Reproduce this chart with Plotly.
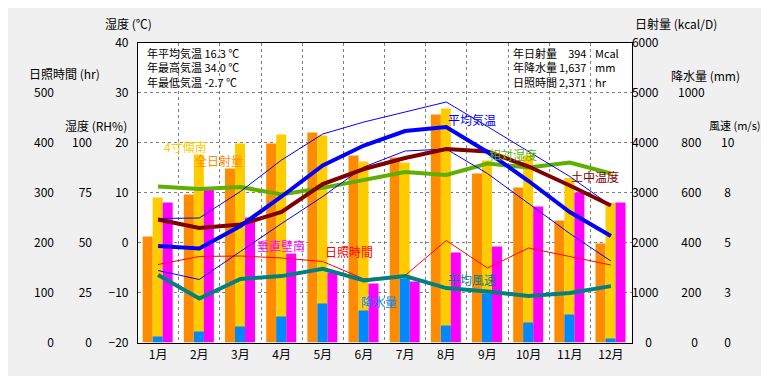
import plotly.graph_objects as go

# ---------------- data ----------------
months = ["1月", "2月", "3月", "4月", "5月", "6月", "7月", "8月", "9月", "10月", "11月", "12月"]
month_num = list(range(1, 13))

solar_all = [2120, 2960, 3480, 3980, 4200, 3740, 3700, 4560, 3380, 3100, 2440, 1980]   # 全日射量 kcal/D
solar_tilt = [2900, 3760, 3980, 4160, 4140, 3620, 3600, 4680, 3640, 3740, 3290, 2790]  # 4寸傾南
solar_wall = [2800, 3060, 2500, 1780, 1400, 1180, 1220, 1800, 1920, 2720, 3000, 2800]  # 垂直壁南
precip = [24, 44, 64, 104, 156, 128, 256, 68, 196, 80, 112, 16]                        # 降水量 mm
sunshine = [156, 172, 173, 169, 162, 127, 134, 204, 149, 189, 172, 155]                # 日照時間 hr
rh = [78, 76.8, 77.7, 74, 77.3, 81, 85.2, 83.8, 89.5, 87.5, 90, 84.5]                  # 相対湿度 %
wind = [3.38, 2.2, 3.18, 3.32, 3.68, 3.1, 3.32, 2.72, 2.55, 2.32, 2.48, 2.82]          # 平均風速 m/s
t_avg = [-0.7, -1.2, 3.3, 9.2, 15.4, 19.4, 22.3, 23.1, 18.1, 12.3, 6.1, 1.3]
t_max = [4.8, 4.9, 10.2, 16.5, 21.7, 24.1, 26.1, 28.1, 23.2, 18.2, 13.2, 7.4]
t_min = [-5.6, -7.4, -1.8, 3.8, 9.2, 15.1, 18.3, 18.7, 13.8, 7.8, 1.8, -3.7]
t_soil = [4.6, 2.9, 3.6, 6.1, 11.7, 14.7, 16.9, 18.7, 18.2, 15.2, 11.4, 7.4]

temp_ticks = [-20, -10, 0, 10, 20, 30, 40]
rh_ticks = [0, 25, 50, 75, 100]
sun_ticks = [0, 100, 200, 300, 400, 500]
solar_ticks = [0, 1000, 2000, 3000, 4000, 5000, 6000]
solar_text = ["\u2007\u20070", "1000", "2000", "3000", "4000", "5000", "6000"]
precip_ticks = [0, 200, 400, 600, 800, 1000]
precip_text = ["\u2007\u20070", "\u2008200", "\u2008400", "\u2008600", "\u2008800", "1000"]
wind_ticks = [0, 2.5, 5, 7.5, 10]
wind_text = ["\u20080", "\u20083", "\u20085", "\u20088", "10"]

summary_left = ["年平均気温 16.3 ℃", "年最高気温 34.0 ℃", "年最低気温 -2.7 ℃"]
summary_right_lab = ["年日射量", "年降水量", "日照時間"]
summary_right_num = ["394", "1,637", "2,371"]
summary_right_unit = ["Mcal", "mm", "hr"]

# ---------------- geometry helpers ----------------
W, H = 769, 376
OFF = 8  # page offset of the figure inside the browser window
L, R, T, B = 137.5, 631.5, 42.5, 342.5
FONT = "Noto Sans CJK JP"
GAP = 8
STANDOFF = 8


def px(x):
    return (x - OFF) / W


def py(y):
    return 1 - (y - OFF) / H


ydom = [py(B), py(T)]

fig = go.Figure()

bw = 0.243
fig.add_trace(go.Bar(x=month_num, y=solar_all, width=bw, offset=-0.374, marker_color="#FF8C00",
                     marker_line_width=0, yaxis="y", name="全日射量"))
fig.add_trace(go.Bar(x=month_num, y=solar_tilt, width=bw, offset=-0.131, marker_color="#FFCC00",
                     marker_line_width=0, yaxis="y", name="4寸傾南"))
fig.add_trace(go.Bar(x=month_num, y=solar_wall, width=bw, offset=0.112, marker_color="#FF00FF",
                     marker_line_width=0, yaxis="y", name="垂直壁南"))
fig.add_trace(go.Bar(x=month_num, y=precip, width=bw, offset=-0.131, marker_color="#0088FF",
                     marker_line_width=0, yaxis="y2", name="降水量"))

fig.add_trace(go.Scatter(x=month_num, y=rh, mode="lines", line=dict(color="#5FAF00", width=4), yaxis="y3"))
fig.add_trace(go.Scatter(x=month_num, y=sunshine, mode="lines", line=dict(color="#FF0000", width=1), yaxis="y4"))
fig.add_trace(go.Scatter(x=month_num, y=wind, mode="lines", line=dict(color="#008080", width=4), yaxis="y5"))
fig.add_trace(go.Scatter(x=month_num, y=t_max, mode="lines", line=dict(color="#0000FF", width=1), yaxis="y6"))
fig.add_trace(go.Scatter(x=month_num, y=t_min, mode="lines", line=dict(color="#0000FF", width=1), yaxis="y6"))
fig.add_trace(go.Scatter(x=month_num, y=t_soil, mode="lines", line=dict(color="#800000", width=4), yaxis="y6"))
fig.add_trace(go.Scatter(x=month_num, y=t_avg, mode="lines", line=dict(color="#0000FF", width=4), yaxis="y6"))

tickfont = dict(family=FONT, size=12, color="black")
common = dict(showgrid=False, zeroline=False, ticks="", tickfont=tickfont, fixedrange=True,
              domain=ydom, automargin=False)

layout = dict(
    width=W, height=H, autosize=False,
    margin=dict(l=0, r=0, t=0, b=0, pad=0, autoexpand=False),
    paper_bgcolor="#F0F0F0", plot_bgcolor="white",
    showlegend=False, barmode="overlay",
    font=dict(family=FONT, size=12, color="black"),
    xaxis=dict(domain=[px(L), px(R)], range=[0.5, 12.5], tickvals=month_num, ticktext=months,
               showgrid=False, zeroline=False, ticks="", showline=True, mirror=True, automargin=False,
               linecolor="black", linewidth=1, tickfont=tickfont, fixedrange=True, ticklabelstandoff=1,
               minor=dict(tickvals=[m + 0.5 for m in month_num[:-1]], showgrid=True,
                          gridcolor="#808080", gridwidth=1, griddash="3px,3px", ticks="")),
    yaxis=dict(range=[0, 6000], side="right", anchor="x", tickvals=solar_ticks, ticktext=solar_text,
               showline=True, mirror=True, linecolor="black", linewidth=1,
               ticklabelstandoff=STANDOFF - 11, **common),
    yaxis2=dict(range=[0, 1200], side="right", overlaying="y", anchor="free", position=px(677 - GAP),
                tickvals=precip_ticks, ticktext=precip_text, showline=False,
                ticklabelstandoff=STANDOFF, **common),
    yaxis3=dict(range=[0, 150], side="left", overlaying="y", anchor="free", position=px(92 + GAP),
                tickvals=rh_ticks, showline=False, ticklabelstandoff=STANDOFF, **common),
    yaxis4=dict(range=[0, 600], side="left", overlaying="y", anchor="free", position=px(54 + GAP),
                tickvals=sun_ticks, showline=False, ticklabelstandoff=STANDOFF, **common),
    yaxis5=dict(range=[0, 15], side="right", overlaying="y", anchor="free", position=px(720 - GAP),
                tickvals=wind_ticks, ticktext=wind_text, showline=False,
                ticklabelstandoff=STANDOFF, **common),
    yaxis6=dict(range=[-20, 40], side="left", overlaying="y", anchor="x", tickvals=temp_ticks,
                showline=False, ticklabelstandoff=STANDOFF,
                **{k: v for k, v in common.items() if k != "showgrid"},
                showgrid=True, gridcolor="#808080", gridwidth=1, griddash="3px,3px"),
)
fig.update_layout(**layout)

annotations = []


def add_text(text, x, y, color="black", anchor="left", size=12, align="left"):
    annotations.append(dict(text=text, x=px(x), y=py(y), xref="paper", yref="paper",
                            xanchor=anchor, yanchor="middle", showarrow=False, align=align,
                            font=dict(family=FONT, size=size, color=color)))


# axis titles
add_text("湿度 (℃)", 128, 24, anchor="center")
add_text("日照時間 (hr)", 64, 74, anchor="center")
add_text("湿度 (RH%)", 95.5, 125, anchor="center")
add_text("日射量 (kcal/D)", 676, 24, anchor="center")
add_text("降水量 (mm)", 705.5, 75, anchor="center")
add_text("風速 (m/s)", 763, 125, anchor="right", size=11)

# summary boxes
add_text("<br>".join(summary_left), 145, 68, size=11)
add_text("<br>".join(summary_right_lab), 511, 68, size=11)
add_text("<br>".join(summary_right_num), 588, 68, size=11, anchor="right", align="right")
add_text("<br>".join(summary_right_unit), 593, 68, size=11)

# series labels
add_text("4寸傾南", 162, 146, color="#FFCC00")
add_text("全日射量", 193, 160, color="#FF8C00")
add_text("平均気温", 446, 119, color="#0000FF")
add_text("相対湿度", 487, 154, color="#5FAF00")
add_text("土中温度", 569, 176, color="#800000")
add_text("垂直壁南", 255, 245, color="#FF00FF")
add_text("日照時間", 323, 251, color="#FF0000")
add_text("降水量", 359, 301, color="#0088FF")
add_text("平均風速", 446, 279, color="#008080")

fig.update_layout(annotations=annotations)
fig.write_html("out.html")
